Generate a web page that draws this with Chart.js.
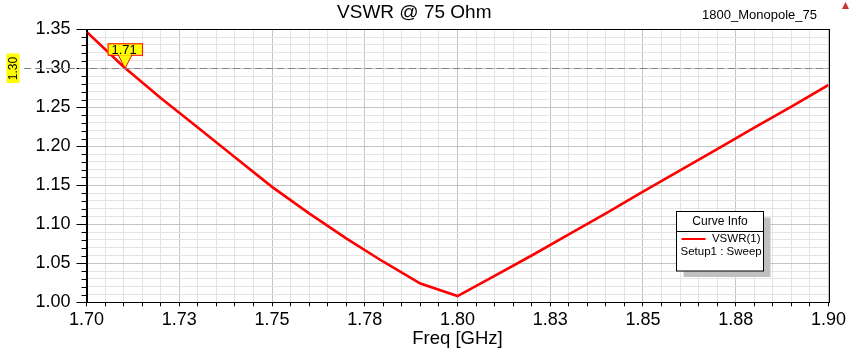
<!DOCTYPE html>
<html>
<head>
<meta charset="utf-8">
<title>VSWR @ 75 Ohm</title>
<script src="https://cdn.jsdelivr.net/npm/chart.js@4.4.1/dist/chart.umd.min.js"></script>
<style>
  html, body { margin: 0; padding: 0; background: #fff; }
  #wrap { width: 855px; height: 352px; }
</style>
</head>
<body>
<div id="wrap"><canvas id="vswrChart" width="855" height="352"></canvas></div>
<script>
// sweep data
const freqGHz = [1.70, 1.71, 1.72, 1.73, 1.74, 1.75, 1.76, 1.77, 1.78, 1.79, 1.80,
                 1.81, 1.82, 1.83, 1.84, 1.85, 1.86, 1.87, 1.88, 1.89, 1.90];
const vswr = [1.347, 1.302, 1.262, 1.224, 1.186, 1.148, 1.114, 1.082, 1.052, 1.024, 1.008,
              1.034, 1.060, 1.087, 1.114, 1.142, 1.169, 1.1965, 1.224, 1.251, 1.2786];

// axes
const xMin = 1.70, xMax = 1.90, xMinorStep = 0.005;
const yMin = 1.00, yMax = 1.35, yMinorStep = 0.01;
const xTickLabels = ['1.70', '1.73', '1.75', '1.78', '1.80', '1.83', '1.85', '1.88', '1.90'];
const yTickLabels = ['1.00', '1.05', '1.10', '1.15', '1.20', '1.25', '1.30', '1.35'];

// marker / reference line
const refLevel = 1.30;
const refLabel = '1.30';
const markerFreq = 1.7104;
const markerLabel = '1.71';

const FONT = '"Liberation Sans", Arial, sans-serif';
const MAJOR_GRID = '#c4c4c4';
const MINOR_GRID = '#e4e4e4';

function isMajor(value, min, step) {
  return Math.round((value - min) / step) % 5 === 0;
}

const hfssDecor = {
  id: 'hfssDecor',
  afterDatasetsDraw(chart) {
    const { ctx, chartArea: a, scales: { y } } = chart;
    ctx.save();
    // minor ticks on y axis (shorter than major)
    ctx.strokeStyle = '#000';
    ctx.lineWidth = 1;
    y.ticks.forEach(t => {
      if (isMajor(t.value, yMin, yMinorStep)) return;
      const py = Math.round(y.getPixelForValue(t.value)) + 0.5;
      ctx.beginPath();
      ctx.moveTo(a.left - 5, py);
      ctx.lineTo(a.left, py);
      ctx.stroke();
    });
    // plot frame
    ctx.strokeRect(Math.round(a.left) + 0.5, Math.round(a.top) + 0.5,
                   Math.round(a.right - a.left), Math.round(a.bottom - a.top));
    ctx.restore();
  },
  afterDraw(chart) {
    const { ctx, chartArea: a, scales: { x, y } } = chart;
    ctx.save();

    // dashed reference line at 1.30
    const ry = Math.round(y.getPixelForValue(refLevel)) + 0.5;
    ctx.strokeStyle = '#858585';
    ctx.lineWidth = 1.2;
    ctx.setLineDash([7, 4]);
    ctx.beginPath();
    ctx.moveTo(24, ry);
    ctx.lineTo(a.right, ry);
    ctx.stroke();
    ctx.setLineDash([]);

    // rotated yellow label of the reference line
    ctx.fillStyle = '#ffff00';
    ctx.fillRect(6.5, ry - 15, 13, 29.5);
    ctx.save();
    ctx.translate(13.5, ry);
    ctx.rotate(-Math.PI / 2);
    ctx.fillStyle = '#000';
    ctx.font = '12px ' + FONT;
    ctx.textAlign = 'center';
    ctx.textBaseline = 'middle';
    ctx.fillText(refLabel, 0, 0.5);
    ctx.restore();

    // marker flag at the crossing
    const mx = x.getPixelForValue(markerFreq);
    const my = y.getPixelForValue(refLevel);
    const bx = mx - 17.5, bw = 34.5, by = my - 25, bh = 11.5;
    ctx.fillStyle = '#ffff00';
    ctx.strokeStyle = '#ff0000';
    ctx.lineWidth = 1;
    ctx.beginPath();
    ctx.moveTo(mx - 7, by + bh);
    ctx.lineTo(mx, my);
    ctx.lineTo(mx + 7, by + bh);
    ctx.closePath();
    ctx.fill();
    ctx.stroke();
    ctx.fillRect(bx, by, bw, bh);
    ctx.strokeRect(bx + 0.5, by + 0.5, bw, bh);
    ctx.fillStyle = '#ffff00';
    ctx.fillRect(mx - 6, by + bh - 1, 12, 2);
    ctx.fillStyle = '#000';
    ctx.font = '13px ' + FONT;
    ctx.textAlign = 'center';
    ctx.textBaseline = 'middle';
    ctx.fillText(markerLabel, mx - 1, by + bh / 2 + 1);

    // curve info box
    const lx = 676.5, ly = 211.5, lw = 87, lh = 59.5;
    ctx.fillStyle = '#c0c0c0';
    ctx.fillRect(lx + 7, ly + 6, lw, lh);
    ctx.fillStyle = '#fff';
    ctx.fillRect(lx, ly, lw, lh);
    ctx.strokeStyle = '#000';
    ctx.strokeRect(lx, ly, lw, lh);
    ctx.beginPath();
    ctx.moveTo(lx, ly + 20);
    ctx.lineTo(lx + lw, ly + 20);
    ctx.stroke();
    ctx.fillStyle = '#000';
    ctx.font = '12px ' + FONT;
    ctx.textAlign = 'center';
    ctx.fillText('Curve Info', lx + lw / 2, ly + 10.5);
    ctx.strokeStyle = '#ff0000';
    ctx.lineWidth = 2;
    ctx.beginPath();
    ctx.moveTo(lx + 5, ly + 27.5);
    ctx.lineTo(lx + 29, ly + 27.5);
    ctx.stroke();
    ctx.font = '11.5px ' + FONT;
    ctx.textAlign = 'right';
    ctx.fillText('VSWR(1)', lx + lw - 3, ly + 27.5);
    ctx.textAlign = 'left';
    ctx.fillText('Setup1 : Sweep', lx + 4, ly + 40.5);

    // design name and icon, top right
    ctx.font = '13px ' + FONT;
    ctx.textAlign = 'right';
    ctx.textBaseline = 'alphabetic';
    ctx.fillText('1800_Monopole_75', 817, 18.5);
    ctx.fillStyle = '#cc3333';
    ctx.beginPath();
    ctx.moveTo(845.5, 2);
    ctx.lineTo(849, 9);
    ctx.lineTo(842, 9);
    ctx.closePath();
    ctx.fill();
    ctx.restore();
  }
};

const ctx = document.getElementById('vswrChart').getContext('2d');
Chart.defaults.font.family = FONT;
Chart.defaults.color = '#000';

new Chart(ctx, {
  type: 'line',
  data: {
    datasets: [{
      label: 'VSWR(1)',
      data: freqGHz.map((f, i) => ({ x: f, y: vswr[i] })),
      borderColor: '#ff0000',
      borderWidth: 2.6,
      pointRadius: 0,
      tension: 0,
      fill: false
    }]
  },
  options: {
    responsive: false,
    animation: false,
    layout: { padding: { left: 0, right: 26.5, top: 0, bottom: 0 } },
    plugins: {
      legend: { display: false },
      tooltip: { enabled: false },
      title: {
        display: true,
        text: 'VSWR @ 75 Ohm',
        font: { size: 19, weight: 'normal', lineHeight: 1.2 },
        color: '#000',
        padding: { top: 1.5, bottom: 5 }
      }
    },
    scales: {
      x: {
        type: 'linear',
        min: xMin,
        max: xMax,
        afterFit: s => { s.height = 49.7; },
        border: { display: true, color: '#000', width: 1 },
        grid: {
          drawTicks: true,
          tickLength: 4,
          tickColor: '#000',
          color: c => isMajor(c.tick.value, xMin, xMinorStep) ? MAJOR_GRID : MINOR_GRID
        },
        ticks: {
          stepSize: xMinorStep,
          autoSkip: false,
          maxRotation: 0,
          padding: 2.5,
          font: { size: 18 },
          callback: v => {
            const i = Math.round((v - xMin) / xMinorStep);
            return i % 5 === 0 ? xTickLabels[i / 5] : '';
          }
        },
        title: {
          display: true,
          text: 'Freq [GHz]',
          font: { size: 18.5 },
          padding: { top: 0, bottom: 2 }
        }
      },
      y: {
        type: 'linear',
        min: yMin,
        max: yMax,
        afterFit: s => { s.width = 86.5; },
        border: { display: true, color: '#000', width: 1 },
        grid: {
          drawTicks: true,
          tickLength: 10,
          tickColor: c => isMajor(c.tick.value, yMin, yMinorStep) ? '#000' : 'rgba(0,0,0,0)',
          color: c => isMajor(c.tick.value, yMin, yMinorStep) ? MAJOR_GRID : MINOR_GRID
        },
        ticks: {
          stepSize: yMinorStep,
          autoSkip: false,
          padding: 6,
          font: { size: 18 },
          callback: v => {
            const i = Math.round((v - yMin) / yMinorStep);
            return i % 5 === 0 ? yTickLabels[i / 5] : '';
          }
        }
      }
    }
  },
  plugins: [hfssDecor]
});
</script>
</body>
</html>
